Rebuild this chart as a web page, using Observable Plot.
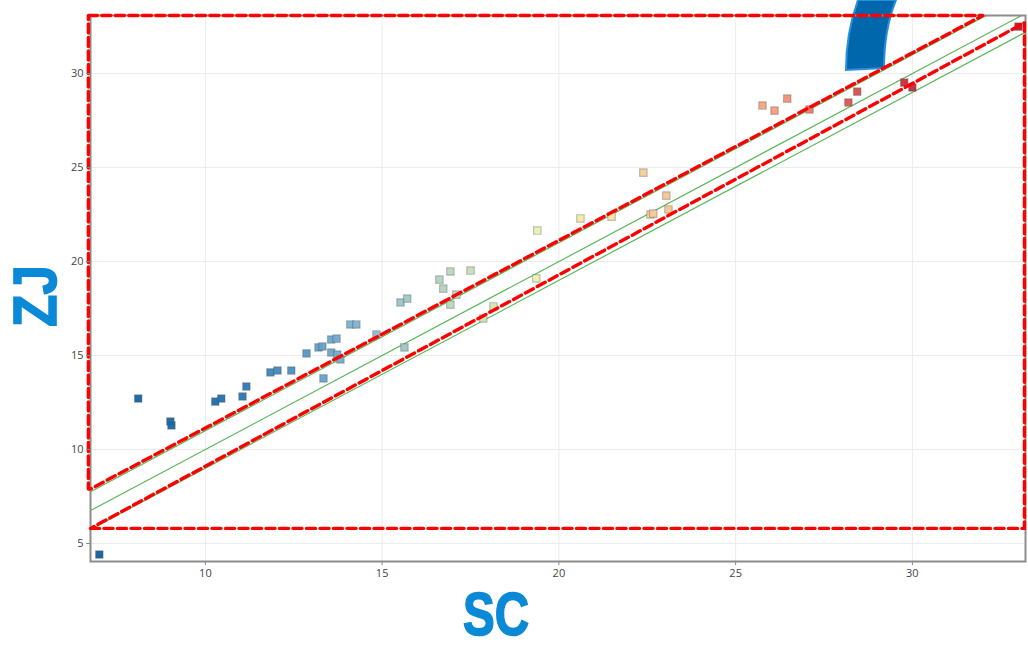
<!DOCTYPE html>
<html><head><meta charset="utf-8">
<script src="https://cdn.jsdelivr.net/npm/d3@7"></script>
<script src="https://cdn.jsdelivr.net/npm/@observablehq/plot@0.6"></script>
<style>
body{margin:0;background:#fff;}
#chart{position:relative;width:1028px;height:649px;}
</style></head><body><div id="chart"></div>
<script>
// --- data ---
const sc = [7.0, 8.10, 9.01, 9.04, 10.28, 10.45, 11.05, 11.16, 11.84, 12.04, 12.43, 12.86, 13.20, 13.31, 13.34, 13.56, 13.56, 13.71, 13.73, 13.82, 14.10, 14.27, 14.84, 15.52, 15.63, 15.71, 16.62, 16.73, 16.93, 16.93, 17.10, 17.50, 17.86, 18.15, 19.36, 19.39, 20.61, 21.49, 22.39, 22.59, 22.67, 23.04, 23.10, 25.76, 26.10, 26.46, 27.09, 28.19, 28.44, 29.77, 30.0, 33.0];
const zj = [4.41, 12.71, 11.49, 11.28, 12.55, 12.71, 12.82, 13.35, 14.10, 14.20, 14.20, 15.11, 15.43, 15.48, 13.78, 15.16, 15.85, 15.90, 15.05, 14.79, 16.65, 16.65, 16.12, 17.82, 15.43, 18.03, 19.04, 18.56, 19.47, 17.71, 18.24, 19.52, 16.97, 17.61, 19.10, 21.65, 22.29, 22.39, 24.73, 22.50, 22.55, 23.51, 22.77, 28.30, 28.03, 28.67, 28.09, 28.46, 29.04, 29.52, 29.26, 32.5];
const xTicks = [10, 15, 20, 25, 30];
const yTicks = [5, 10, 15, 20, 25, 30];
const xTitle = "SC";
const yTitle = "ZJ";
const diagOffsets = [-1, 0, 1];
const upperZoneX = [6.69, 31.99, 6.75, 6.69, 6.69];
const upperZoneY = [33.09, 33.09, 7.9, 7.9, 33.09];
const lowerZoneX = [6.75, 33.17, 33.17, 6.75];
const lowerZoneY = [5.8, 5.8, 32.7, 5.8];
const colorStops = [7, 10, 11.2, 12.5, 13.5, 14.5, 15.6, 17, 18.2, 19.5, 21.5, 22.5, 26, 28, 30, 33];
const colorValues = ["#0f5f9e", "#1b6ca8", "#2a7ab4", "#4a90c0", "#6aa6cc", "#86b6d0", "#9ec4c6", "#bcd8bc", "#d6e8b4", "#eef2b0", "#f6e6a0", "#f6cc98", "#f4a27e", "#dc5a55", "#c8253a", "#b81a2e"];

const xDomain = [6.75, 33.2];
const yDomain = [4.04, 33.09];

const points = sc.map((x, i) => ({x, y: zj[i]}));
const diag = diagOffsets.flatMap(o => xDomain.map(x => ({x, y: x + o, o})));
const upperZone = upperZoneX.map((x, i) => ({x, y: upperZoneY[i]}));
const lowerZone = lowerZoneX.map((x, i) => ({x, y: lowerZoneY[i]}));

const chart = Plot.plot({
  width: 1028, height: 649,
  marginTop: 15, marginLeft: 90, marginRight: 3, marginBottom: 88,
  style: {fontFamily: "'Open Sans', 'DejaVu Sans', sans-serif", fontSize: "11px", color: "#444", background: "#fff"},
  x: {domain: xDomain},
  y: {domain: yDomain},
  color: {type: "linear", domain: colorStops, range: colorValues},
  marks: [
    Plot.gridX(xTicks, {stroke: "#ececec", strokeOpacity: 1}),
    Plot.gridY(yTicks, {stroke: "#ececec", strokeOpacity: 1}),
    Plot.line(diag, {x: "x", y: "y", z: "o", stroke: "#5cb85c", strokeWidth: 1.2, clip: true}),
    Plot.dot(points, {x: "x", y: "y", symbol: "square", r: 4.2, fill: "x", fillOpacity: 0.95, stroke: "#555", strokeOpacity: 0.35, strokeWidth: 1.2}),
    Plot.frame({stroke: "#8c8c8c", strokeWidth: 2}),
    Plot.line(upperZone, {x: "x", y: "y", stroke: "#ff0000", strokeWidth: 3.4, strokeDasharray: "9,4.5"}),
    Plot.line(lowerZone, {x: "x", y: "y", stroke: "#ff0000", strokeWidth: 3.4, strokeDasharray: "9,4.5"}),
    Plot.axisX(xTicks, {tickSize: 4, tickPadding: 4, stroke: "#888", fill: "#444", label: null, fontSize: 11}),
    Plot.axisY(yTicks, {tickSize: 4, tickPadding: 3, stroke: "#888", fill: "#444", label: null, fontSize: 11})
  ]
});
const host = document.getElementById("chart");
host.appendChild(chart);

const svg = d3.select(chart);
// decorative blue stroke partly visible at the top
svg.insert("path", "g")
  .attr("d", "M858,0 C850,22 846,45 846,70 L884,68 C884,45 888,20 896,0 Z")
  .attr("fill", "#0067ad").attr("stroke", "#2a90dc").attr("stroke-width", 2);

// axis titles
const titleStyle = t => t
  .attr("font-family", "'Liberation Sans', Arial, sans-serif")
  .attr("font-weight", "bold")
  .attr("font-size", 61)
  .attr("fill", "#0a89d6")
  .attr("stroke", "#0a89d6").attr("stroke-width", 1.6)
  .attr("text-anchor", "middle");

titleStyle(svg.append("text").attr("transform", "translate(496,635) scale(0.78,1)").text(xTitle));
titleStyle(svg.append("text").attr("transform", "translate(56,296) rotate(-90) scale(0.87,1)").text(yTitle));
</script></body></html>
